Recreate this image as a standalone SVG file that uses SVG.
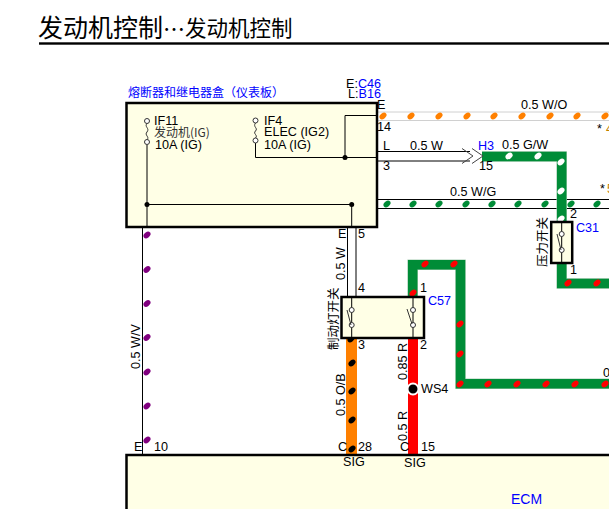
<svg xmlns="http://www.w3.org/2000/svg" width="609" height="509" viewBox="0 0 609 509">
<style>
text{font-family:"Liberation Sans","Noto Sans CJK SC",sans-serif;font-size:12.6px;fill:#000}
.cjk{font-family:"Noto Sans CJK SC","Liberation Sans",sans-serif}
.blue{fill:#0000ff}
.box{fill:#ffffe6;stroke:#000;stroke-width:2.5}
.w{fill:none;stroke:#000;stroke-width:1}
.g{fill:none;stroke:#008c37;stroke-width:9.5;stroke-linejoin:miter}
.ge{fill:none;stroke:#a8cdb4;stroke-width:10.5;stroke-linejoin:miter}
.lw{fill:none;stroke:#d0d0d0;stroke-width:1}
.c{fill:#fff;stroke:#333;stroke-width:1}
.t{fill:none;stroke:#333;stroke-width:1}
.chev{fill:none;stroke:#444;stroke-width:1}
.dot{fill:#000}
</style>
<defs>
<ellipse id="d" rx="3.9" ry="2.7" transform="rotate(-38)"/>
</defs>
<g id="title">
<text x="38" y="37" class="cjk" style="font-size:25px">发动机控制</text>
<text x="163" y="37" class="cjk" style="font-size:22px">…</text>
<text x="185" y="36" class="cjk" style="font-size:21.5px">发动机控制</text>
<rect x="39" y="42.3" width="570" height="2.4"/>
</g>
<g id="connectors">
<path class="lw" d="M377 112H609M377 120.5H609"/>
<path class="w" d="M377 151.5H470M377 161H470M377 199.5H609M377 208.5H609"/>
<path class="ge" d="M482 156.500H561.700V283.500H609"/>
<path class="g" d="M482 156.500H561.700V283.500H609"/>
<path class="chev" d="M462 148.500L473 156L462 163.500M472 148.500L483 156L472 163.500"/>
<path class="w" d="M142.500 227V455M347.500 227V297M356 227V297"/>
<path class="ge" d="M412.700 296V264.700H460.500V383.700H609"/>
<path class="g" d="M412.700 296V264.700H460.500V383.700H609"/>
<rect x="346" y="338" width="11" height="117" fill="#ff8000"/>
<rect x="408" y="338" width="10" height="117" fill="#ff0000"/>
<g fill="#ff8000">
<use href="#d" x="383" y="116"/><use href="#d" x="411" y="116"/><use href="#d" x="439" y="116"/><use href="#d" x="467" y="116"/><use href="#d" x="494" y="116"/><use href="#d" x="522" y="116"/><use href="#d" x="550" y="116"/><use href="#d" x="577" y="116"/><use href="#d" x="605" y="116"/>
</g>
<g fill="#008c37">
<use href="#d" x="387" y="204"/><use href="#d" x="413" y="204"/><use href="#d" x="439" y="204"/><use href="#d" x="466" y="204"/><use href="#d" x="492" y="204"/><use href="#d" x="518" y="204"/><use href="#d" x="545" y="204"/><use href="#d" x="571" y="204"/><use href="#d" x="597" y="204"/>
</g>
<g fill="#fff">
<use href="#d" x="509" y="156"/><use href="#d" x="538" y="156"/><use href="#d" x="561" y="162"/><use href="#d" x="561" y="191"/><use href="#d" x="561" y="219"/>
</g>
<g fill="#ff0000">
<use href="#d" x="568" y="283"/><use href="#d" x="597" y="283"/><use href="#d" x="425" y="264"/><use href="#d" x="454" y="264"/><use href="#d" x="413" y="293"/><use href="#d" x="460" y="324"/><use href="#d" x="460" y="354"/><use href="#d" x="460" y="384"/><use href="#d" x="488" y="384"/><use href="#d" x="517" y="384"/><use href="#d" x="546" y="384"/><use href="#d" x="575" y="384"/><use href="#d" x="605" y="384"/>
</g>
<g fill="#80007f">
<use href="#d" x="147" y="235"/><use href="#d" x="147" y="269.500"/><use href="#d" x="147" y="303.500"/><use href="#d" x="147" y="337.500"/><use href="#d" x="147" y="372"/><use href="#d" x="147" y="406"/><use href="#d" x="147" y="440"/>
</g>
<g fill="#000">
<use href="#d" x="351" y="339"/><use href="#d" x="352" y="363"/><use href="#d" x="352" y="391"/><use href="#d" x="352" y="420"/><use href="#d" x="352" y="449"/>
</g>
<circle cx="413" cy="389" r="5.500" fill="#000" stroke="#fff" stroke-width="2"/>
</g>
<g id="fuse-box">
<rect class="box" x="126.500" y="103" width="250.500" height="124"/>
<path class="w" d="M147 145V227M147 204.500H351.700V227M255.500 143V157.500H377M345 157.500V115.500H377"/>
<circle class="dot" cx="147" cy="204.500" r="2.500"/><circle class="dot" cx="351.700" cy="204.500" r="2.500"/><circle class="dot" cx="345" cy="157.500" r="2.500"/>
<circle class="c" cx="147" cy="121" r="2.500"/><circle class="c" cx="147" cy="142" r="2.500"/>
<path class="t" d="M147 123.500C144 127 150 128 147 132C144 135 150 137 147 139.500"/>
<circle class="c" cx="255.500" cy="120.500" r="2.500"/><circle class="c" cx="255.500" cy="140.500" r="2.500"/>
<path class="t" d="M255.500 123C252.500 127 258.500 128 255.500 131C252.500 134 258.500 135 255.500 138"/>
<text x="154" y="125">IF11</text>
<text x="154" y="137" class="cjk" fill="#333" style="font-size:12px;fill:#333">发动机(IG)</text>
<text x="155" y="149">10A (IG)</text>
<text x="264" y="125">IF4</text>
<text x="264" y="136">ELEC (IG2)</text>
<text x="264" y="149">10A (IG)</text>
<text x="128" y="97" class="cjk blue" style="font-size:12px">熔断器和继电器盒（仪表板）</text>
</g>
<g id="pressure-switch">
<rect x="551.200" y="222" width="21" height="41" fill="#ffffe6" stroke="#000" stroke-width="2.500"/>
<path class="w" d="M561.700 222V263"/>
<circle class="c" cx="561.700" cy="234" r="2.500"/><circle class="c" cx="561.700" cy="250" r="2.500"/>
<path class="t" d="M557 234L561 250"/>
</g>
<g id="brake-switch">
<rect class="box" x="341.500" y="297" width="82.500" height="41"/>
<path class="w" d="M351.700 297V338M413 297V338"/>
<circle class="c" cx="351.700" cy="310" r="2.500"/><circle class="c" cx="351.700" cy="325" r="2.500"/>
<circle class="c" cx="413" cy="310" r="2.500"/><circle class="c" cx="413" cy="325" r="2.500"/>
<path class="t" d="M347 310L351 325M407 309L412 324"/>
</g>
<g id="ecm">
<rect class="box" x="126.500" y="455" width="500" height="70"/>
<text x="511" y="504" class="blue" style="font-size:14px">ECM</text>
</g>
<g id="labels">
<text x="346" y="88">E:<tspan class="blue">C46</tspan></text>
<text x="348" y="98">L:<tspan class="blue">B16</tspan></text>
<text x="377" y="109">E</text><text x="377" y="131">14</text>
<text x="383" y="150">L</text><text x="383" y="170">3</text>
<text x="410" y="150">0.5 W</text>
<text x="478" y="150" class="blue">H3</text><text x="502" y="149">0.5 G/W</text>
<text x="479" y="170">15</text>
<text x="521" y="109">0.5 W/O</text>
<text x="597" y="133">*</text><text x="606" y="133" style="fill:#c08000">4</text>
<text x="450" y="196">0.5 W/G</text>
<text x="600" y="193">*</text><text x="607" y="193" style="fill:#c08000">5</text>
<text x="570" y="218">2</text><text x="570" y="274">1</text>
<text x="576" y="232" class="blue">C31</text>
<text x="603" y="377">0</text>
<text x="338" y="238">E</text><text x="358" y="238">5</text>
<text x="358" y="292">4</text><text x="358" y="349">3</text>
<text x="420" y="292">1</text><text x="420" y="349">2</text>
<text x="428" y="305" class="blue">C57</text>
<text x="421" y="393">WS4</text>
<text x="134" y="451">E</text><text x="154" y="451">10</text>
<text x="338" y="451">C</text><text x="358" y="451">28</text>
<text x="400" y="451">C</text><text x="421" y="451">15</text>
<text x="343" y="466">SIG</text><text x="404" y="467">SIG</text>
<text transform="translate(140 369) rotate(-90)">0.5 W/V</text>
<text transform="translate(345 280) rotate(-90)">0.5 W</text>
<text transform="translate(345 416) rotate(-90)">0.5 O/B</text>
<text transform="translate(407 380) rotate(-90)">0.85 R</text>
<text transform="translate(407 441) rotate(-90)">0.5 R</text>
<text transform="translate(337.500 350) rotate(-90)" class="cjk" style="font-size:12.500px">制动灯开关</text>
<text transform="translate(547 267) rotate(-90)" class="cjk" style="font-size:12.500px">压力开关</text>
</g>
</svg>
